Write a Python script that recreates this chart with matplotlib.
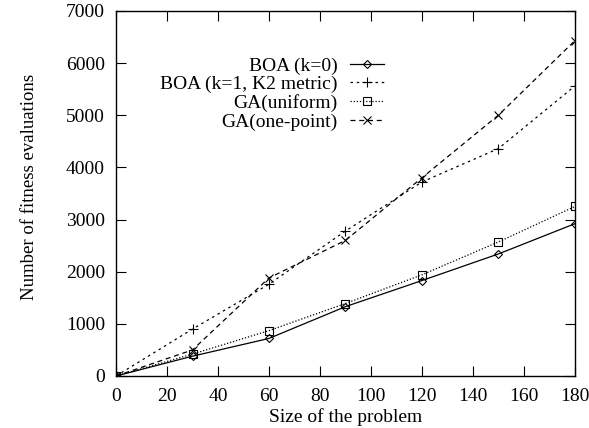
import matplotlib
matplotlib.use("Agg")
import matplotlib.pyplot as plt

plt.rcParams['font.family'] = ['Liberation Serif', 'DejaVu Serif']

sizes = [0, 30, 60, 90, 120, 150, 180]
boa_k0 = [0, 380, 720, 1330, 1830, 2340, 2920]
boa_k1 = [0, 900, 1760, 2780, 3720, 4360, 5560]
ga_uniform = [0, 420, 870, 1390, 1940, 2570, 3250]
ga_onepoint = [0, 500, 1880, 2600, 3800, 5000, 6430]

fig = plt.figure(figsize=(5.89, 4.28), dpi=100)
ax = fig.add_axes([0.197, 0.1215, 0.779, 0.853])

ax.plot(sizes, boa_k0, color='black', lw=0.9, ls='-', marker='D', ms=4.5,
        mfc='none', mec='black', mew=0.8, label='BOA (k=0)')
ax.plot(sizes, boa_k1, color='black', lw=0.9, ls=(0, (2, 3)), marker='+', ms=7,
        mew=0.8, label='BOA (k=1, K2 metric)')
ax.plot(sizes, ga_uniform, color='black', lw=0.9, ls=(0, (1, 1.5)), marker='s', ms=6,
        mfc='none', mec='black', mew=0.8, label='GA(uniform)')
ax.plot(sizes, ga_onepoint, color='black', lw=0.9, ls=(0, (4, 3)), marker='x', ms=6,
        mew=0.8, label='GA(one-point)')

ax.set_xlim(0, 180)
ax.set_ylim(0, 7000)
ax.set_xticks(range(0, 181, 20))
ax.set_yticks(range(0, 7001, 1000))
ax.tick_params(direction='in', top=True, right=True, length=7, labelsize=14)
ax.tick_params(axis='x', pad=9)
ax.tick_params(axis='y', pad=8)
for s in ax.spines.values():
    s.set_linewidth(1.0)

ax.set_xlabel('Size of the problem', fontsize=14, labelpad=2)
ax.set_ylabel('Number of fitness evaluations', fontsize=13.5)
ax.yaxis.set_label_coords(-0.17, 0.518)

ax.legend(loc='upper right', bbox_to_anchor=(0.6, 0.895), frameon=False,
          markerfirst=False, fontsize=14, handlelength=1.75, labelspacing=0.05,
          handletextpad=0.6, borderaxespad=0)

fig.savefig('out.png', dpi=100)
